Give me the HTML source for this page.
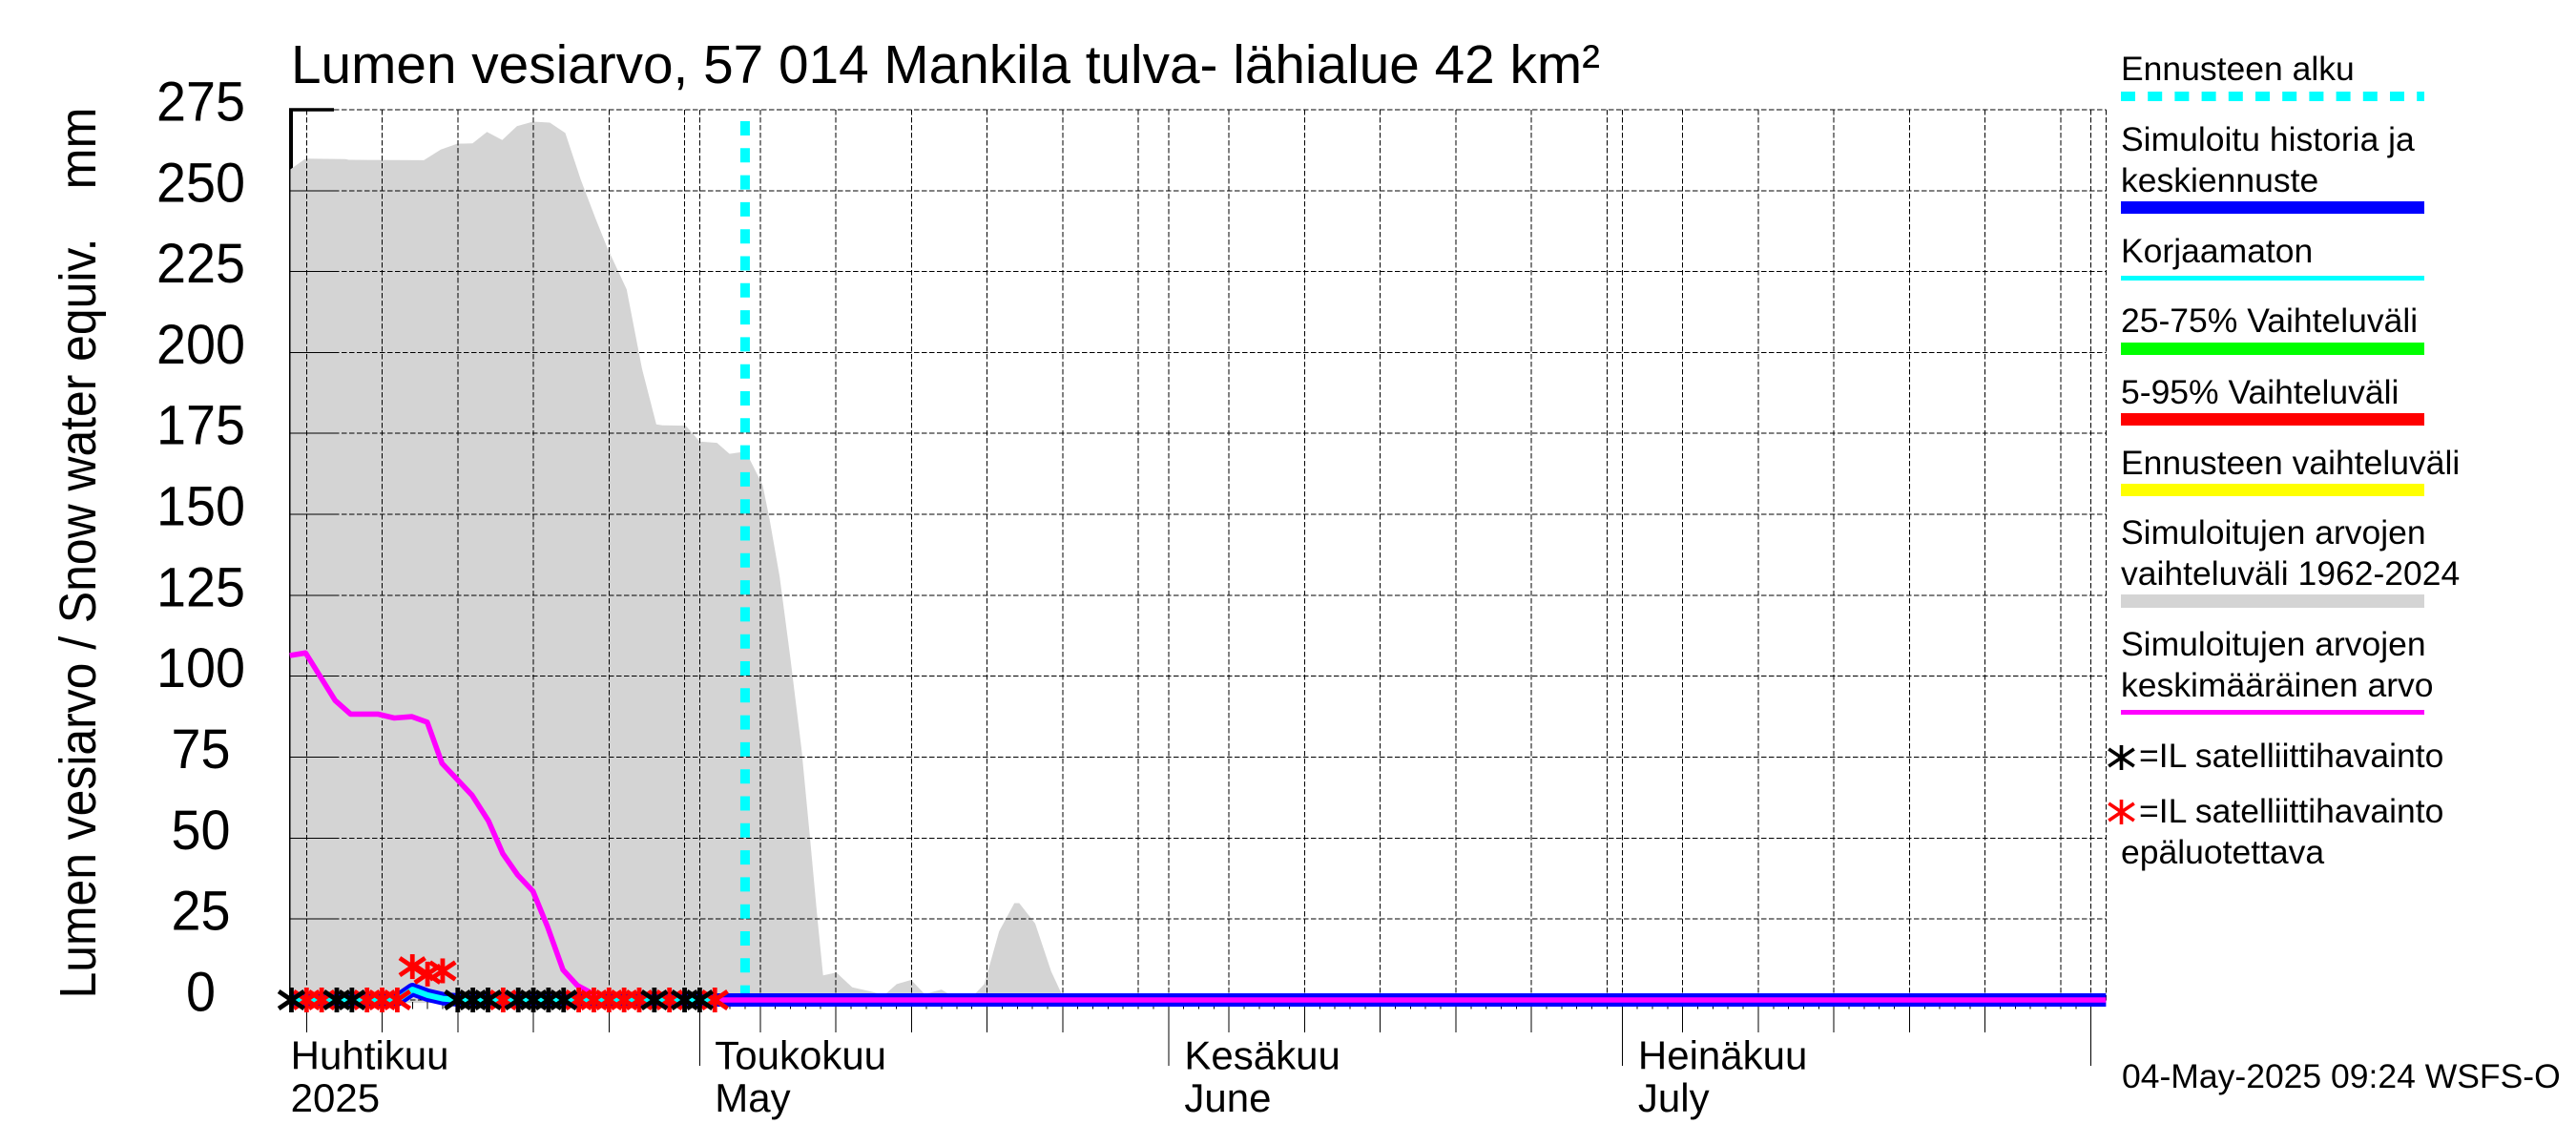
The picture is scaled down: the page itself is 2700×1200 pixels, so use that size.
<!DOCTYPE html>
<html lang="fi">
<head>
<meta charset="utf-8">
<title>Lumen vesiarvo, 57 014 Mankila</title>
<style>
  html, body { margin: 0; padding: 0; background: #fff; }
  svg { display: block; }
  text { font-family: "Liberation Sans", "DejaVu Sans", sans-serif; fill: #000; }
  .legend-text { font-size: 35.5px; }
  .axis-text { font-size: 42px; }
  .tick-text { font-size: 58px; text-anchor: middle; }
</style>
</head>
<body>
<svg id="chart" xmlns="http://www.w3.org/2000/svg" width="2700" height="1200" viewBox="0 0 2700 1200">
  <rect x="0" y="0" width="2700" height="1200" fill="#ffffff"/>

  <text x="305" y="87" font-size="57" textLength="1372" lengthAdjust="spacingAndGlyphs">Lumen vesiarvo, 57 014 Mankila tulva- lähialue 42 km²</text>
  <text transform="translate(100,1046.5) rotate(-90)" font-size="54" textLength="797" lengthAdjust="spacingAndGlyphs">Lumen vesiarvo / Snow water equiv.</text>
  <text transform="translate(100,198.5) rotate(-90)" font-size="54" textLength="86" lengthAdjust="spacingAndGlyphs">mm</text>

  <g id="plot"></g>

  <g>
    <text class="legend-text" x="2223" y="84">Ennusteen alku</text>
    <line x1="2223" y1="101" x2="2541" y2="101" stroke="#00ffff" stroke-width="10" stroke-dasharray="15 13.2"/>

    <text class="legend-text" x="2223" y="158">Simuloitu historia ja</text>
    <text class="legend-text" x="2223" y="201">keskiennuste</text>
    <rect x="2223" y="211" width="318" height="13" fill="#0000ff"/>

    <text class="legend-text" x="2223" y="275">Korjaamaton</text>
    <rect x="2223" y="289" width="318" height="5" fill="#00ffff"/>

    <text class="legend-text" x="2223" y="348">25-75% Vaihteluväli</text>
    <rect x="2223" y="359" width="318" height="13" fill="#00ff00"/>

    <text class="legend-text" x="2223" y="423">5-95% Vaihteluväli</text>
    <rect x="2223" y="433" width="318" height="13" fill="#ff0000"/>

    <text class="legend-text" x="2223" y="497">Ennusteen vaihteluväli</text>
    <rect x="2223" y="507" width="318" height="13" fill="#ffff00"/>

    <text class="legend-text" x="2223" y="570">Simuloitujen arvojen</text>
    <text class="legend-text" x="2223" y="613">vaihteluväli 1962-2024</text>
    <rect x="2223" y="623" width="318" height="14" fill="#d4d4d4"/>

    <text class="legend-text" x="2223" y="687">Simuloitujen arvojen</text>
    <text class="legend-text" x="2223" y="730">keskimääräinen arvo</text>
    <rect x="2223" y="744" width="318" height="5" fill="#ff00ff"/>

    <text class="legend-text" x="2242" y="804">=IL satelliittihavainto</text>
    <text class="legend-text" x="2242" y="862">=IL satelliittihavainto</text>
    <text class="legend-text" x="2223" y="905">epäluotettava</text>
    <g id="legend-markers"></g>
  </g>

  <text class="legend-text" x="2224" y="1140">04-May-2025 09:24 WSFS-O</text>
</svg>

<script>
// ---- Data: days are counted from 1 May 2025 ----
const yTickValues = [0, 25, 50, 75, 100, 125, 150, 175, 200, 225, 250, 275];
const gridDays = [-26, -21, -16, -11, -6, -1, 4, 9, 14, 19, 24, 29, 35, 40, 45, 50, 55, 60, 65, 70, 75, 80, 85, 90];
const unmarkedGridDays = [-1, 29, 60, 90];
const monthDays = [0, 31, 61, 92];
const monthLabelFi = ["Huhtikuu", "Toukokuu", "Kesäkuu", "Heinäkuu"];
const monthLabelEn = ["2025", "May", "June", "July"];
const monthLabelDays = [-27.05, 1.0, 32.05, 62.05];

const rangeDays = [-27.11, -26.06, -23.43, -23.2, -18.24, -17.12, -16.03, -15.02, -14.07, -13.06, -12.09, -11.03, -9.91, -8.89, -7.87, -6.86, -6.08, -4.83, -3.82, -2.87, -2.47, -0.93, 0, 1.14, 1.97, 3.05, 4.16, 4.62, 5.29, 5.99, 6.73, 7.31, 7.78, 8.16, 9.04, 10.09, 11.35, 12.2, 13.03, 13.98, 14.88, 15.98, 16.5, 18.19, 18.82, 19.8, 20.81, 21.13, 22.18, 23.24, 23.97, 24.4, 93];
const rangeMax = [256.6, 259.9, 259.7, 259.5, 259.4, 262.7, 264.5, 264.6, 268.1, 265.6, 269.9, 271.3, 271, 267.8, 253.4, 241, 232, 219.5, 195, 177.8, 177.5, 177.4, 172.5, 172.1, 168.7, 169.4, 159.1, 148.5, 130.7, 105.9, 77.5, 49.1, 25.4, 7.6, 8.5, 3.9, 2.6, 1.5, 4.9, 6.2, 1.8, 3.2, 1.8, 1.8, 4.9, 21.2, 29.9, 29.9, 23.6, 8.8, 1.5, 0, 0];
const rangeFloor = -0.9;

const meanDays = [-27.11, -26.06, -24.11, -23.09, -21.29, -20.2, -19.03, -18.02, -17.04, -15.05, -13.97, -13.02, -12.04, -11.03, -10.06, -9.04, -8.1, -7.45, -6.43, 93];
const meanValues = [106.4, 107.2, 92.5, 88.3, 88.3, 87.1, 87.5, 85.8, 73.1, 63.2, 55.3, 45.2, 38.6, 33.6, 22.6, 9.3, 4.5, 2.9, 0, 0];

const simulatedDays = [-27.11, -20, -19, -18, -17, -16, 93];
const simulatedValues = [0, 0, 3.2, 1.5, 0.4, 0, 0];

const uncorrectedDays = [-27.11, -20, -19, -18, -17, -16, 1];
const uncorrectedValues = [0, 0, 3.2, 1.5, 0.4, 0, 0];

const forecastStartDay = 3;

const reliableObsDays = [-27, -24, -23, -16, -15, -14, -12, -11, -10, -9, -3, -1, 0];
const reliableObsValues = [0, 0, 0, 0, 0, 0, 0, 0, 0, 0, 0, 0, 0];
const unreliableObsDays = [-26, -25, -22, -21, -20, -19, -18, -17, -13, -8, -7, -6, -5, -4, -2, 1];
const unreliableObsValues = [0, 0, 0, 0, 0, 10.3, 8, 9, 0, 0, 0, 0, 0, 0, 0, 0];

// ---- Scales ----
const X0 = 733.4, PX_PER_DAY = 15.85, Y0 = 1048, PX_PER_MM = 3.393;
const plotRightDay = 93, plotLeftX = 304.5, plotTop = 115;
function xScale(day) { return X0 + PX_PER_DAY * day; }
function yScale(v) { return Y0 - PX_PER_MM * v; }

const SVG_NS = "http://www.w3.org/2000/svg";
const plot = document.getElementById("plot");
function make(tag, parent, attrs) {
  const el = document.createElementNS(SVG_NS, tag);
  for (const k in attrs) el.setAttribute(k, attrs[k]);
  parent.appendChild(el);
  return el;
}
function pointsOf(days, values) {
  return days.map((d, i) => xScale(d).toFixed(1) + "," + yScale(values[i]).toFixed(1)).join(" ");
}
function asterisk(parent, x, y, color, width) {
  const g = make("g", parent, { stroke: color, "stroke-width": width, "stroke-linecap": "butt" });
  make("line", g, { x1: x, y1: y - 13, x2: x, y2: y + 13 });
  make("line", g, { x1: x - 13.3, y1: y - 9, x2: x + 13.3, y2: y + 9 });
  make("line", g, { x1: x - 13.3, y1: y + 9, x2: x + 13.3, y2: y - 9 });
  return g;
}

// Thick axis frame corner (partly covered by the grey band)
const axisLeft = make("line", plot, { x1: 305, y1: 113.5, x2: 305, y2: 1050, stroke: "#000", "stroke-width": 4 });


const axisTopTick = make("line", plot, { x1: 303, y1: 115, x2: 350, y2: 115, stroke: "#000", "stroke-width": 3.4 });



// Grey simulated range band
const bandTop = rangeDays.map((d, i) => (d === rangeDays[0] ? plotLeftX : xScale(d)).toFixed(1) + "," + yScale(rangeMax[i]).toFixed(1));
const bandPts = bandTop.join(" ") + " " + xScale(plotRightDay).toFixed(1) + "," + yScale(rangeFloor).toFixed(1) + " " + plotLeftX + "," + yScale(rangeFloor).toFixed(1);
const band = make("polygon", plot, { points: bandPts, fill: "#d4d4d4" });



// Thin remainder of left axis on the band
const axisThin = make("line", plot, { x1: 303.5, y1: 170, x2: 303.5, y2: 1050, stroke: "#000", "stroke-width": 1, "shape-rendering": "crispEdges" });



// Horizontal grid + ticks + labels
const gridGroup = make("g", plot, { "shape-rendering": "crispEdges" });


yTickValues.forEach(function (v) {
  const y = yScale(v);
  const hg = make("line", gridGroup, { x1: 350, y1: y, x2: xScale(plotRightDay), y2: y, stroke: "#000", "stroke-width": 1, "stroke-dasharray": "5.5 2.5" });
  
  
  if (v !== 0) {
    const tk = make("line", gridGroup, { x1: 304, y1: y, x2: 350, y2: y, stroke: "#000", "stroke-width": 1 });
    
    
  }
  const label = String(v);
  const lb = make("text", plot, { x: 210.5, y: y + 11.5, class: "tick-text", textLength: label.length * 31, lengthAdjust: "spacingAndGlyphs" });
  lb.textContent = label;
  
  
});

// Vertical grid (5-day + month)
gridDays.concat(monthDays, [plotRightDay]).forEach(function (d) {
  const x = xScale(d);
  const vg = make("line", gridGroup, { x1: x, y1: plotTop, x2: x, y2: 1050, stroke: "#000", "stroke-width": 1, "stroke-dasharray": "5.5 2.5" });
  
  
});

// Ticks under the axis
const tickGroup = make("g", plot, { "shape-rendering": "crispEdges" });


gridDays.filter(function (d) { return unmarkedGridDays.indexOf(d) < 0; }).forEach(function (d) {
  const t = make("line", tickGroup, { x1: xScale(d), y1: 1050, x2: xScale(d), y2: 1082, stroke: "#000", "stroke-width": 1 });
  
  
});
monthDays.forEach(function (d) {
  const t = make("line", tickGroup, { x1: xScale(d), y1: 1050, x2: xScale(d), y2: 1117, stroke: "#000", "stroke-width": 1 });
  
  
});
for (let d = -19; d <= 92; d++) {
  const t = make("line", tickGroup, { x1: xScale(d), y1: 1050, x2: xScale(d), y2: 1057.5, stroke: "#000", "stroke-width": 1 });
  
  
}

// Month labels
monthLabelFi.forEach(function (name, i) {
  const a = make("text", plot, { x: xScale(monthLabelDays[i]), y: 1120.5, class: "axis-text" });
  a.textContent = name;
  
  
  const b = make("text", plot, { x: xScale(monthLabelDays[i]), y: 1165, class: "axis-text" });
  b.textContent = monthLabelEn[i];
  
  
});

// Forecast start line
const fc = make("line", plot, { x1: xScale(forecastStartDay), y1: 127, x2: xScale(forecastStartDay), y2: 1048, stroke: "#00ffff", "stroke-width": 10, "stroke-dasharray": "15 13.3" });



// Series
const simLine = make("polyline", plot, { points: pointsOf(simulatedDays, simulatedValues), fill: "none", stroke: "#0000ff", "stroke-width": 14, "stroke-linejoin": "round" });


const meanLine = make("polyline", plot, { points: pointsOf(meanDays, meanValues), fill: "none", stroke: "#ff00ff", "stroke-width": 5.6, "stroke-linejoin": "round" });


const rawLine = make("polyline", plot, { points: pointsOf(uncorrectedDays, uncorrectedValues), fill: "none", stroke: "#00ffff", "stroke-width": 6, "stroke-linejoin": "round" });



// Observation markers
unreliableObsDays.forEach(function (d, i) {
  const m = asterisk(plot, xScale(d), yScale(unreliableObsValues[i]), "#ff0000", 4.8);
  
  
});
reliableObsDays.forEach(function (d, i) {
  const m = asterisk(plot, xScale(d), yScale(reliableObsValues[i]), "#000000", 4.8);
  
  
});

// Legend asterisks
const legendMarkers = document.getElementById("legend-markers");
const lm1 = asterisk(legendMarkers, 2223.5, 794, "#000000", 3.6);


const lm2 = asterisk(legendMarkers, 2223.5, 851, "#ff0000", 3.6);


</script>
</body>
</html>
